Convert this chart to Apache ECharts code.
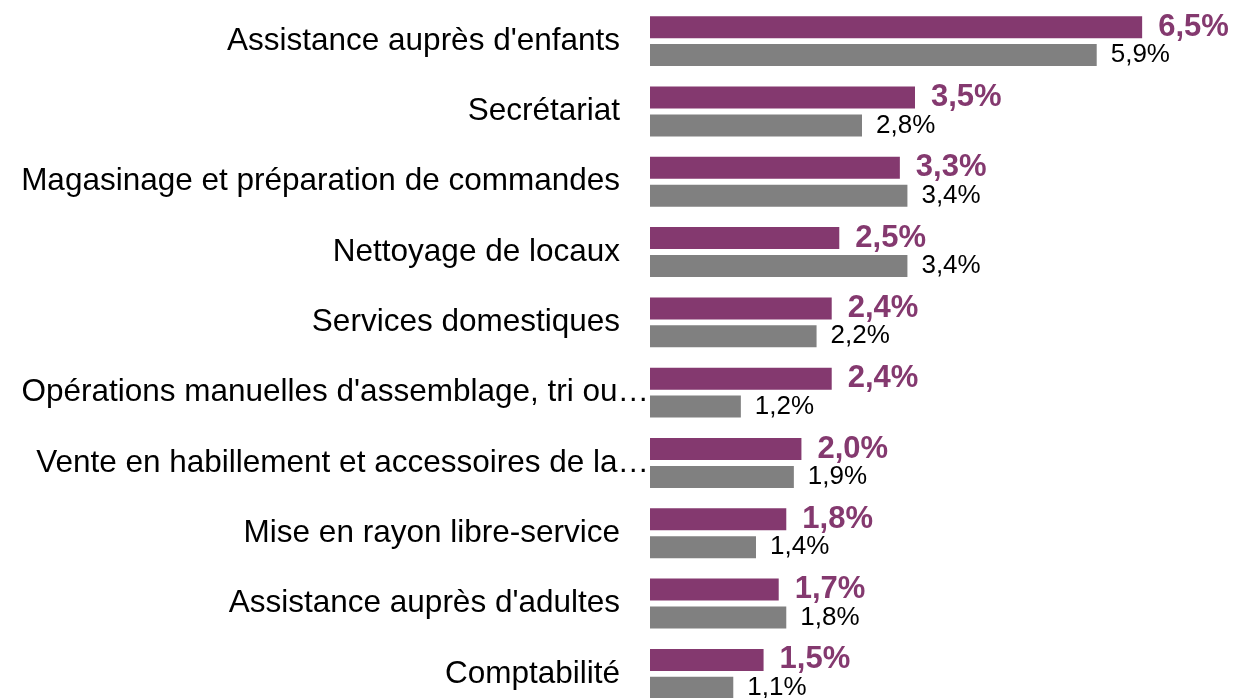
<!DOCTYPE html>
<html>
<head>
    <meta charset="UTF-8">
    <script src="https://cdn.jsdelivr.net/npm/echarts@6/dist/echarts.min.js"></script>
    <style>
        html, body { margin: 0; padding: 0; background: #fff; }
        #main { width: 1234px; height: 698px; }
    </style>
</head>
<body>
<div id="main"></div>
<script>
    // métiers, du haut vers le bas
    var categories = [
        "Assistance auprès d'enfants",
        'Secrétariat',
        'Magasinage et préparation de commandes',
        'Nettoyage de locaux',
        'Services domestiques',
        "Opérations manuelles d'assemblage, tri ou…",
        'Vente en habillement et accessoires de la…',
        'Mise en rayon libre-service',
        "Assistance auprès d'adultes",
        'Comptabilité'
    ];
    var seriesA = [6.5, 3.5, 3.3, 2.5, 2.4, 2.4, 2.0, 1.8, 1.7, 1.5];
    var seriesB = [5.9, 2.8, 3.4, 3.4, 2.2, 1.2, 1.9, 1.4, 1.8, 1.1];

    var purple = '#84396F';
    var grey = '#808080';

    function pct(p) {
        return p.value.toFixed(1).replace('.', ',') + '%';
    }
    function isLong(s) {
        return s.indexOf('…') >= 0;
    }

    var chart = echarts.init(document.getElementById('main'));
    // deux axes à gauche : les libellés tronqués débordent jusqu'aux barres
    function catAxis(margin, showLong) {
        return {
            type: 'category',
            position: 'left',
            inverse: true,
            data: categories,
            axisLine: {show: false},
            axisTick: {show: false},
            axisLabel: {
                margin: margin,
                fontFamily: 'Liberation Sans, Arial, sans-serif',
                fontSize: 31.5,
                color: '#000',
                formatter: function (v) { return isLong(v) === showLong ? v : ''; }
            }
        };
    }
    var option = {
        animation: false,
        grid: {left: 650, right: 54, top: 6, bottom: -11, containLabel: false, outerBoundsMode: 'none'},
        xAxis: {type: 'value', min: 0, max: 7, show: false},
        yAxis: [catAxis(30, false), catAxis(1, true)],
        series: [
            {
                type: 'bar',
                data: seriesA,
                barWidth: 22,
                barGap: '27%',
                itemStyle: {color: purple},
                label: {
                    show: true,
                    position: 'right',
                    distance: 16,
                    formatter: pct,
                    color: purple,
                    fontWeight: 'bold',
                    fontSize: 31,
                    fontFamily: 'Liberation Sans, Arial, sans-serif'
                }
            },
            {
                type: 'bar',
                data: seriesB,
                barWidth: 22,
                itemStyle: {color: grey},
                label: {
                    show: true,
                    position: 'right',
                    distance: 14,
                    formatter: pct,
                    color: '#000',
                    fontSize: 26,
                    fontFamily: 'Liberation Sans, Arial, sans-serif'
                }
            }
        ]
    };
    chart.setOption(option);
</script>
</body>
</html>
